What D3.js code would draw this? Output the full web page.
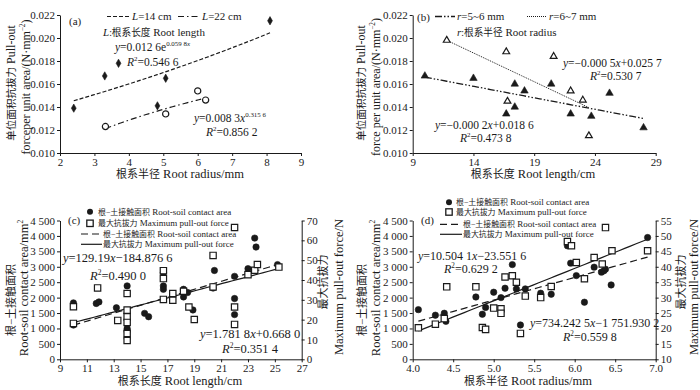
<!DOCTYPE html>
<html>
<head>
<meta charset="utf-8">
<script src="https://cdn.jsdelivr.net/npm/d3@7"></script>
<style>
  body { margin: 0; background: #fff; }
  svg { font-family: "Liberation Serif", "Times New Roman", "Noto Sans CJK SC", serif; }
</style>
</head>
<body>
<div id="chart"></div>
<script>
// ---- data ----
// (a) pull-out force per unit area vs root radius
const aL14x = [2.4, 3.3, 3.7, 4.83, 5.07, 8.1];
const aL14y = [0.0139, 0.0167, 0.0178, 0.0141, 0.0165, 0.0215];
const aL22x = [3.32, 5.07, 6.0, 6.23];
const aL22y = [0.0123, 0.0134, 0.0154, 0.0146];
const aFit14 = [0.0126, 0.0598];   // y = a e^(bx)
const aFit22 = [0.0083, 0.3156];   // y = a x^b
const aFit14Range = [2.4, 8.1];
const aFit22Range = [3.32, 6.1];

// (b) pull-out force per unit area vs root length
const bR56x = [10, 14, 16.7, 17.4, 17.4, 18.2, 20.4, 22, 23.7, 25.2, 28];
const bR56y = [0.0167, 0.0165, 0.0134, 0.0160, 0.0140, 0.0154, 0.0160, 0.0134, 0.0132, 0.0152, 0.0122];
const bR67x = [11.8, 16.7, 16.8, 20.6, 22, 23, 23.5];
const bR67y = [0.0198, 0.0188, 0.0145, 0.0184, 0.0154, 0.0146, 0.0115];
const bFit56 = [-0.0002, 0.0186];
const bFit67 = [-0.0005, 0.0257];
const bFit56Range = [10, 28];
const bFit67Range = [11.8, 23.5];

// (c) contact area / max pull-out force vs root length
const cAreaX = [10, 10, 11.7, 11.9, 13.2, 14, 14, 14, 14, 14, 14, 15.3, 15.6, 16.7, 16.7, 16.7, 17.4, 18.2, 18.2, 18.5, 18.9, 20.4, 20.5, 22, 22, 22, 23, 23.5, 23.6, 25.2];
const cAreaY = [1830, 1110, 1810, 1860, 1670, 2380, 1500, 1000, 950, 900, 680, 1490, 1380, 2810, 2380, 2270, 2100, 2270, 2020, 2165, 1600, 2310, 2880, 2690, 1970, 1450, 2940, 3930, 3640, 3070];
const cForceX = [10, 10, 11.8, 13.3, 14, 14, 14, 14, 14, 14, 16.7, 16.7, 16.7, 17.4, 17.4, 18.2, 18.6, 19, 20.4, 20.4, 22, 22, 22, 23, 23.5, 23.7, 25.3];
const cForceY = [26.5, 18.1, 36, 19.6, 33.2, 24.8, 21.4, 18.6, 13, 9.5, 44.7, 40.7, 30.2, 33.2, 29.8, 34.3, 26.4, 20.1, 52.4, 36.5, 66.5, 26.4, 17.6, 42.7, 44.9, 47.8, 46.5];
const cFitArea = [129.19, -184.8766];
const cFitForce = [1.7818, 0.668];
const cFitRange = [10, 25.3];

// (d) contact area / max pull-out force vs root radius
const dAreaX = [4.07, 4.28, 4.39, 4.41, 4.78, 4.86, 4.9, 5.0, 5.09, 5.14, 5.23, 5.28, 5.33, 5.39, 5.58, 5.71, 5.91, 5.95, 6.02, 6.12, 6.24, 6.33, 6.36, 6.38, 6.45, 6.9];
const dAreaY = [1610, 1430, 1493, 1230, 2020, 1461, 1680, 2175, 2000, 2305, 3070, 2283, 1113, 2283, 2143, 2110, 3680, 3117, 2714, 1851, 2987, 2825, 2867, 2922, 2411, 3948];
const dForceX = [4.07, 4.28, 4.39, 4.42, 4.78, 4.86, 4.9, 5.0, 5.09, 5.09, 5.14, 5.23, 5.28, 5.33, 5.39, 5.58, 5.71, 5.91, 5.96, 6.02, 6.12, 6.24, 6.34, 6.38, 6.46, 6.9];
const dForceY = [20.2, 21.4, 23.2, 33.5, 33.5, 20.3, 19.7, 26.6, 26.4, 24.9, 36.7, 37.1, 35, 18.4, 30.5, 30, 33.6, 48.2, 46.8, 41.4, 36.1, 43, 40.9, 52.7, 45.2, 45.2];
const dFitArea = [734.2425, -1751.9302];
const dFitForce = [10.5041, -23.5516];
const dFitRange = [4.07, 6.9];

// ---- drawing ----
const width = 700, height = 390;
const ink = "#1a1a1a";
const svg = d3.select("#chart").append("svg").attr("width", width).attr("height", height);

const fmtThousand = d => d >= 1000 ? Math.floor(d / 1000) + " " + String(d % 1000).padStart(3, "0") : String(d);
const zip = (xs, ys) => xs.map((x, i) => [x, ys[i]]);

// text with italic / superscript pieces
function rich(sel, x, y, parts, size, anchor) {
  const t = sel.append("text").attr("x", x).attr("y", y).attr("font-size", size).attr("fill", ink);
  if (anchor) t.attr("text-anchor", anchor);
  let up = false;
  parts.forEach(p => {
    const s = t.append("tspan").text(p.t);
    if (p.i) s.attr("font-style", "italic");
    if (p.sup && !up) { s.attr("dy", -size * 0.4); up = true; }
    else if (!p.sup && up) { s.attr("dy", size * 0.4); up = false; }
    if (p.sup) s.attr("font-size", size * 0.6);
    if (p.cjk) s.attr("font-size", size * 0.88);
  });
  return t;
}

function vtitle(x, y, parts, size) {
  const g = svg.append("g").attr("transform", `translate(${x},${y}) rotate(-90)`);
  rich(g, 0, 0, parts, size, "middle");
}

function styleAxis(g) {
  g.selectAll("path, line").attr("stroke", ink).attr("stroke-width", 1);
  g.selectAll("text").attr("font-size", 11).attr("fill", ink).attr("font-family", "Liberation Serif, serif");
}

function axes(x, y, xTicks, yTicks, xFmt, yFmt) {
  const [x0] = x.range(), [yb] = y.range();
  svg.append("g").attr("transform", `translate(0,${yb})`)
    .call(d3.axisBottom(x).tickValues(xTicks).tickFormat(xFmt).tickSize(3).tickPadding(2).tickSizeOuter(0))
    .call(styleAxis);
  svg.append("g").attr("transform", `translate(${x0},0)`)
    .call(d3.axisLeft(y).tickValues(yTicks).tickFormat(yFmt).tickSize(3).tickPadding(2).tickSizeOuter(0))
    .call(styleAxis);
}

function rightAxis(x, y, ticks) {
  svg.append("g").attr("transform", `translate(${x.range()[1]},0)`)
    .call(d3.axisRight(y).tickValues(ticks).tickSize(3).tickPadding(2).tickSizeOuter(0))
    .call(styleAxis);
}

function fitLine(x, y, range, f, dash, w) {
  const pts = d3.range(0, 41).map(i => {
    const v = range[0] + (range[1] - range[0]) * i / 40;
    return [x(v), y(f(v))];
  });
  svg.append("path").attr("d", d3.line()(pts)).attr("fill", "none")
    .attr("stroke", ink).attr("stroke-width", w || 1.2).attr("stroke-dasharray", dash || null);
}

function symbols(x, y, data, type, size, filled) {
  svg.append("g").selectAll("path").data(data).join("path")
    .attr("transform", d => `translate(${x(d[0])},${y(d[1])})`)
    .attr("d", d3.symbol(type, size))
    .attr("fill", filled ? ink : "#fff")
    .attr("stroke", ink).attr("stroke-width", filled ? 0.6 : 1.2);
}

const unit = [{ t: "/(N·mm" }, { t: "−2", sup: true }, { t: ")" }];
const yRange = [153, 15];
const bottom = [359.3, 220.5];

// ===== (a) =====
const xa = d3.scaleLinear([2, 9], [60, 301]);
const ya = d3.scaleLinear([0.010, 0.022], yRange);
axes(xa, ya, d3.range(2, 10), d3.range(0.010, 0.0221, 0.002), d3.format("d"), d3.format(".3f"));
fitLine(xa, ya, aFit14Range, v => aFit14[0] * Math.exp(aFit14[1] * v), "4,2");
fitLine(xa, ya, aFit22Range, v => aFit22[0] * Math.pow(v, aFit22[1]), "6,3,1.5,3");
symbols(xa, ya, zip(aL14x, aL14y), d3.symbolDiamond, 20, true);
symbols(xa, ya, zip(aL22x, aL22y), d3.symbolCircle, 30, false);
rich(svg, 69, 25, [{ t: "(a)" }], 11);
svg.append("line").attr("x1", 107).attr("x2", 130).attr("y1", 16.5).attr("y2", 16.5).attr("stroke", ink).attr("stroke-width", 1.2).attr("stroke-dasharray", "4,2");
rich(svg, 132, 20, [{ t: "L", i: true }, { t: "=14 cm" }], 11);
svg.append("line").attr("x1", 178).attr("x2", 200).attr("y1", 16.5).attr("y2", 16.5).attr("stroke", ink).attr("stroke-width", 1.2).attr("stroke-dasharray", "6,3,1.5,3");
rich(svg, 202, 20, [{ t: "L", i: true }, { t: "=22 cm" }], 11);
rich(svg, 103, 36, [{ t: "L", i: true }, { t: ":根系长度", cjk: true }, { t: " Root length" }], 11);
rich(svg, 115, 51, [{ t: "y", i: true }, { t: "=0.012 6e" }, { t: "0.059 8", sup: true }, { t: "x", sup: true, i: true }], 11.5);
rich(svg, 127, 66, [{ t: "R", i: true }, { t: "2", sup: true }, { t: "=0.546 6" }], 11.5);
rich(svg, 194, 122, [{ t: "y", i: true }, { t: "=0.008 3" }, { t: "x", i: true }, { t: "0.315 6", sup: true }], 11.5);
rich(svg, 206, 136, [{ t: "R", i: true }, { t: "2", sup: true }, { t: "=0.856 2" }], 11.5);
rich(svg, 180, 178, [{ t: "根系半径", cjk: true }, { t: " Root radius/mm" }], 12.5, "middle");
vtitle(15, 83, [{ t: "单位面积抗拔力", cjk: true }, { t: " Pull-out" }], 12);
vtitle(29.5, 87, [{ t: "forceper unit area" }].concat(unit), 12);

// ===== (b) =====
const xb = d3.scaleLinear([9, 29], [412.7, 655.7]);
const yb = d3.scaleLinear([0.010, 0.022], yRange);
axes(xb, yb, [9, 14, 19, 24, 29], d3.range(0.010, 0.0221, 0.002), d3.format("d"), d3.format(".3f"));
fitLine(xb, yb, bFit56Range, v => bFit56[0] * v + bFit56[1], "7,2,1.5,2,1.5,2", 1.3);
fitLine(xb, yb, bFit67Range, v => bFit67[0] * v + bFit67[1], "1,1", 1);
symbols(xb, yb, zip(bR56x, bR56y), d3.symbolTriangle, 24, true);
symbols(xb, yb, zip(bR67x, bR67y), d3.symbolTriangle, 20, false);
rich(svg, 417, 21, [{ t: "(b)" }], 11);
svg.append("line").attr("x1", 435).attr("x2", 455).attr("y1", 16.5).attr("y2", 16.5).attr("stroke", ink).attr("stroke-width", 1.3).attr("stroke-dasharray", "7,2,1.5,2,1.5,2");
rich(svg, 457, 20, [{ t: "r", i: true }, { t: "=5~6 mm" }], 11);
svg.append("line").attr("x1", 527).attr("x2", 547).attr("y1", 16.5).attr("y2", 16.5).attr("stroke", ink).attr("stroke-width", 1).attr("stroke-dasharray", "1,1");
rich(svg, 549, 20, [{ t: "r", i: true }, { t: "=6~7 mm" }], 11);
rich(svg, 457, 36, [{ t: "r", i: true }, { t: ":根系半径", cjk: true }, { t: " Root radius" }], 11);
rich(svg, 563, 67, [{ t: "y", i: true }, { t: "=−0.000 5" }, { t: "x", i: true }, { t: "+0.025 7" }], 11.5);
rich(svg, 590, 80, [{ t: "R", i: true }, { t: "2", sup: true }, { t: "=0.530 7" }], 11.5);
rich(svg, 435, 129, [{ t: "y", i: true }, { t: "=−0.000 2" }, { t: "x", i: true }, { t: "+0.018 6" }], 11.5);
rich(svg, 460, 142, [{ t: "R", i: true }, { t: "2", sup: true }, { t: "=0.473 8" }], 11.5);
rich(svg, 533, 178, [{ t: "根系长度", cjk: true }, { t: " Root length/cm" }], 12.5, "middle");
vtitle(365, 83, [{ t: "单位面积抗拔力", cjk: true }, { t: " Pull-out" }], 12);
vtitle(380, 87, [{ t: "force per unit area" }].concat(unit), 12);

// legend for the two double-axis panels
function dualLegend(mx, tx, ys, lx) {
  svg.append("circle").attr("cx", mx).attr("cy", ys[0]).attr("r", 3).attr("fill", ink);
  rich(svg, tx, ys[0] + 3, [{ t: "根−土接触面积", cjk: true }, { t: " Root-soil contact area" }], 9);
  svg.append("rect").attr("x", mx - 3.2).attr("y", ys[1] - 3.2).attr("width", 6.4).attr("height", 6.4).attr("fill", "#fff").attr("stroke", ink).attr("stroke-width", 1.3);
  rich(svg, tx, ys[1] + 3, [{ t: "最大抗拔力", cjk: true }, { t: " Maximum pull-out force" }], 9);
  svg.append("line").attr("x1", lx[0]).attr("x2", lx[1]).attr("y1", ys[2]).attr("y2", ys[2]).attr("stroke", ink).attr("stroke-width", 1.2).attr("stroke-dasharray", "7,4");
  rich(svg, lx[1] + 1, ys[2] + 3, [{ t: "根−土接触面积", cjk: true }, { t: " Root-soil contact area" }], 9);
  svg.append("line").attr("x1", lx[0]).attr("x2", lx[1]).attr("y1", ys[3]).attr("y2", ys[3]).attr("stroke", ink).attr("stroke-width", 1.2);
  rich(svg, lx[1] + 1, ys[3] + 3, [{ t: "最大抗拔力", cjk: true }, { t: " Maximum pull-out force" }], 9);
}

// ===== (c) =====
const xc = d3.scaleLinear([9, 27], [60, 301.7]);
const ycL = d3.scaleLinear([0, 4500], bottom);
const ycR = d3.scaleLinear([0, 70], bottom);
axes(xc, ycL, d3.range(9, 28, 2), d3.range(0, 4501, 500), d3.format("d"), fmtThousand);
rightAxis(xc, ycR, d3.range(0, 71, 10));
fitLine(xc, ycL, cFitRange, v => cFitArea[0] * v + cFitArea[1], "7,4");
fitLine(xc, ycR, cFitRange, v => cFitForce[0] * v + cFitForce[1]);
symbols(xc, ycL, zip(cAreaX, cAreaY), d3.symbolCircle, 32, true);
symbols(xc, ycR, zip(cForceX, cForceY), d3.symbolSquare, 40, false);
rich(svg, 68, 224, [{ t: "(c)" }], 11);
dualLegend(90, 98, [211.7, 223.3, 234, 244.3], [81, 102]);
rich(svg, 63, 262, [{ t: "y", i: true }, { t: "=129.19" }, { t: "x", i: true }, { t: "−184.876 6" }], 12.5);
rich(svg, 90, 280, [{ t: "R", i: true }, { t: "2", sup: true }, { t: "=0.490 0" }], 12.5);
rich(svg, 200, 338, [{ t: "y", i: true }, { t: "=1.781 8" }, { t: "x", i: true }, { t: "+0.668 0" }], 12.5);
rich(svg, 222, 353, [{ t: "R", i: true }, { t: "2", sup: true }, { t: "=0.351 4" }], 12.5);
rich(svg, 180, 385, [{ t: "根系长度", cjk: true }, { t: " Root length/cm" }], 12.5, "middle");
vtitle(15, 300, [{ t: "根−土接触面积", cjk: true }], 12.5);
vtitle(28, 288, [{ t: "Root-soil contact area/mm" }, { t: "2", sup: true }], 12.5);
vtitle(327, 282, [{ t: "最大抗拔力", cjk: true }], 12.5);
vtitle(343, 287, [{ t: "Maximum pull-out force/N" }], 12.5);

// ===== (d) =====
const xd = d3.scaleLinear([4, 7], [412.7, 655.7]);
const ydL = d3.scaleLinear([0, 4500], bottom);
const ydR = d3.scaleLinear([10, 55], bottom);
axes(xd, ydL, d3.range(4, 7.01, 0.5), d3.range(0, 4501, 500), d3.format(".1f"), fmtThousand);
rightAxis(xd, ydR, d3.range(10, 56, 5));
fitLine(xd, ydL, dFitRange, v => dFitArea[0] * v + dFitArea[1], "7,4");
fitLine(xd, ydR, dFitRange, v => dFitForce[0] * v + dFitForce[1]);
symbols(xd, ydL, zip(dAreaX, dAreaY), d3.symbolCircle, 32, true);
symbols(xd, ydR, zip(dForceX, dForceY), d3.symbolSquare, 40, false);
rich(svg, 421, 224, [{ t: "(d)" }], 11);
dualLegend(449, 456, [202.3, 212, 224.3, 234.3], [440, 462]);
rich(svg, 418, 260, [{ t: "y", i: true }, { t: "=10.504 1" }, { t: "x", i: true }, { t: "−23.551 6" }], 12);
rich(svg, 444, 272.5, [{ t: "R", i: true }, { t: "2", sup: true }, { t: "=0.629 2" }], 12);
rich(svg, 530, 327, [{ t: "y", i: true }, { t: "=734.242 5" }, { t: "x", i: true }, { t: "−1 751.930 2" }], 12);
rich(svg, 563, 341, [{ t: "R", i: true }, { t: "2", sup: true }, { t: "=0.559 8" }], 12);
rich(svg, 528, 385, [{ t: "根系半径", cjk: true }, { t: " Root radius/mm" }], 12.5, "middle");
vtitle(366, 300, [{ t: "根−土接触面积", cjk: true }], 12.5);
vtitle(380, 288, [{ t: "Root-soil contact area/mm" }, { t: "2", sup: true }], 12.5);
vtitle(685, 282, [{ t: "最大抗拔力", cjk: true }], 12.5);
vtitle(698, 287, [{ t: "Maximum pull-out force/N" }], 12.5);
</script>
</body>
</html>
